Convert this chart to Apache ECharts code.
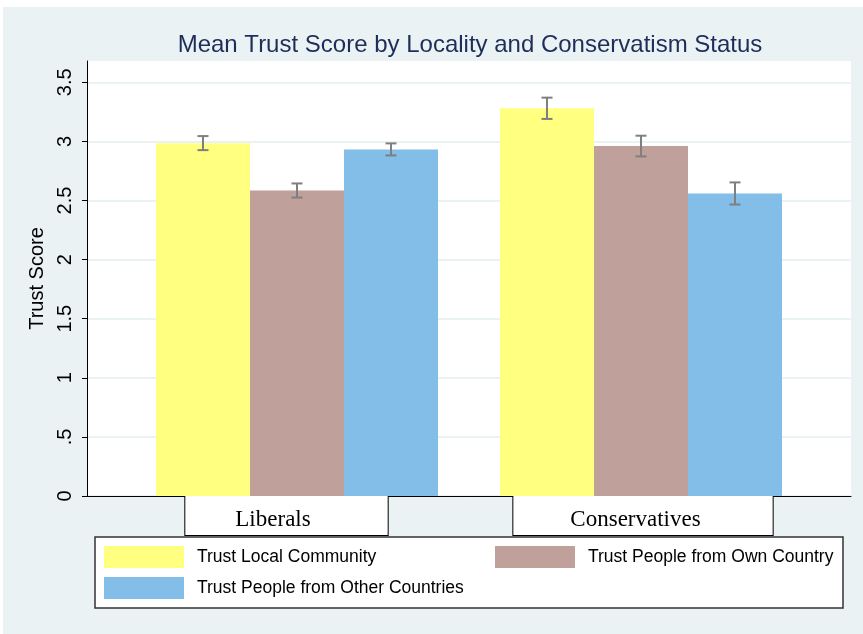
<!DOCTYPE html>
<html>
<head>
<meta charset="utf-8">
<script src="https://cdn.jsdelivr.net/npm/echarts@6/dist/echarts.min.js"></script>
<style>
  html, body { margin: 0; padding: 0; background: #ffffff; }
  #bg { position: absolute; left: 3px; top: 7px; width: 860px; height: 627px; background: #EAF2F3; }
  #chart { position: absolute; left: 0; top: 0; width: 863px; height: 634px; }
</style>
</head>
<body>
<div id="bg"></div>
<div id="chart"></div>
<script>
// ---- data ----
const titleText = 'Mean Trust Score by Locality and Conservatism Status';
const yAxisName = 'Trust Score';
const categories = ['Liberals', 'Conservatives'];
const seriesNames = ['Trust Local Community', 'Trust People from Own Country', 'Trust People from Other Countries'];
const trustLocal = [2.985, 3.28];
const trustLocalLow = [2.926, 3.19];
const trustLocalHigh = [3.045, 3.37];
const trustOwn = [2.585, 2.96];
const trustOwnLow = [2.525, 2.873];
const trustOwnHigh = [2.644, 3.048];
const trustOther = [2.932, 2.559];
const trustOtherLow = [2.881, 2.466];
const trustOtherHigh = [2.983, 2.653];
const yTickValues = [0, 0.5, 1, 1.5, 2, 2.5, 3, 3.5];
const yTickLabels = ['0', '.5', '1', '1.5', '2', '2.5', '3', '3.5'];
const yMin = 0, yMax = 3.68;

// ---- styles ----
const colors = ['#FFFF80', '#BFA09A', '#82BEE8'];
const BAR_W = 94;
const SANS = '"Liberation Sans", Arial, sans-serif';
const SERIF = '"Liberation Serif", "Times New Roman", serif';

const chart = echarts.init(document.getElementById('chart'), null, { renderer: 'canvas' });

const means = [trustLocal, trustOwn, trustOther];
const lows = [trustLocalLow, trustOwnLow, trustOtherLow];
const highs = [trustLocalHigh, trustOwnHigh, trustOtherHigh];

const barSeries = means.map((vals, k) => ({
  name: seriesNames[k],
  type: 'bar',
  xAxisIndex: 1, yAxisIndex: 1,
  data: vals,
  barWidth: BAR_W,
  barGap: '0%',
  itemStyle: { color: colors[k] },
  emphasis: { disabled: true },
  silent: true,
  z: 2
}));

const errSeries = means.map((vals, k) => ({
  type: 'custom',
  xAxisIndex: 1, yAxisIndex: 1,
  data: vals.map((v, i) => [i, lows[k][i], highs[k][i]]),
  silent: true,
  z: 5,
  renderItem: function (params, api) {
    const off = (k - 1) * BAR_W;
    const pLo = api.coord([api.value(0), api.value(1)]);
    const pHi = api.coord([api.value(0), api.value(2)]);
    const x = pLo[0] + off;
    const cw = 5.5;
    const st = { stroke: '#7F7F7F', lineWidth: 2 };
    return {
      type: 'group',
      children: [
        { type: 'line', shape: { x1: x, y1: pLo[1], x2: x, y2: pHi[1] }, style: st },
        { type: 'line', shape: { x1: x - cw, y1: pLo[1], x2: x + cw, y2: pLo[1] }, style: st },
        { type: 'line', shape: { x1: x - cw, y1: pHi[1], x2: x + cw, y2: pHi[1] }, style: st }
      ]
    };
  }
}));

const boxStyle = {
  backgroundColor: '#ffffff', borderColor: '#000000', borderWidth: 1,
  fontFamily: SERIF, fontSize: 23, lineHeight: 23, color: '#000000'
};

const legendCommon = {
  orient: 'horizontal', padding: 0, itemWidth: 80, itemHeight: 22,
  icon: 'rect', selectedMode: false,
  textStyle: { fontFamily: SANS, fontSize: 17.5, color: '#000000', padding: [0, 0, 0, 8] }
};

const option = {
  animation: false,
  backgroundColor: 'transparent',
  title: {
    text: titleText, left: 470, top: 33, textAlign: 'center', padding: 0,
    textStyle: { fontFamily: SANS, fontSize: 24, fontWeight: 'normal', color: '#1E2D5A' }
  },
  graphic: [
    { type: 'rect', shape: { x: 95, y: 537, width: 748, height: 71 },
      style: { fill: '#ffffff', stroke: '#333333', lineWidth: 1.5 }, z: 0, silent: true }
  ],
  legend: [
    Object.assign({}, legendCommon, { data: [seriesNames[0]], left: 104, top: 546 }),
    Object.assign({}, legendCommon, { data: [seriesNames[1]], left: 495, top: 546 }),
    Object.assign({}, legendCommon, { data: [seriesNames[2]], left: 104, top: 577 })
  ],
  grid: [
    { left: 87, right: 12, top: 61, bottom: 138, show: true, backgroundColor: '#ffffff', borderWidth: 0 },
    { left: 125, right: 50, top: 61, bottom: 138, show: false }
  ],
  xAxis: [
    { gridIndex: 0, type: 'value', min: 0, max: 1,
      axisLine: { show: true, lineStyle: { color: '#000000', width: 1 } },
      axisTick: { show: false }, axisLabel: { show: false }, splitLine: { show: false } },
    { gridIndex: 1, type: 'category', data: categories,
      axisLine: { show: false }, axisTick: { show: false }, splitLine: { show: false },
      axisLabel: {
        interval: 0, margin: 8,
        formatter: function (v, i) { return '{l' + i + '|}{b' + i + '|' + v + '}{r' + i + '|}'; },
        rich: {
          l0: { width: 0 }, r0: { width: 21 },
          b0: Object.assign({}, boxStyle, { padding: [12, 77, 4, 50] }),
          l1: { width: 4 }, r1: { width: 0 },
          b1: Object.assign({}, boxStyle, { padding: [12, 72, 4, 57] })
        }
      } }
  ],
  yAxis: [
    { gridIndex: 0, type: 'value', min: yMin, max: yMax,
      name: yAxisName, nameLocation: 'middle', nameRotate: 90, nameGap: 37,
      nameTextStyle: { fontFamily: SANS, fontSize: 20, color: '#000000' },
      axisLine: { show: true, lineStyle: { color: '#000000', width: 1 } },
      axisTick: { show: true, length: 5, customValues: yTickValues, lineStyle: { color: '#000000' } },
      axisLabel: {
        rotate: 90, margin: 12, fontFamily: SANS, fontSize: 20, color: '#000000',
        customValues: yTickValues,
        formatter: function (v) { const i = yTickValues.indexOf(v); return i >= 0 ? yTickLabels[i] : ''; }
      },
      splitLine: { show: true, lineStyle: { color: '#EAF2F3', width: 2 } } },
    { gridIndex: 1, type: 'value', min: yMin, max: yMax, show: false, splitLine: { show: false } }
  ],
  series: barSeries.concat(errSeries)
};

chart.setOption(option);
</script>
</body>
</html>
